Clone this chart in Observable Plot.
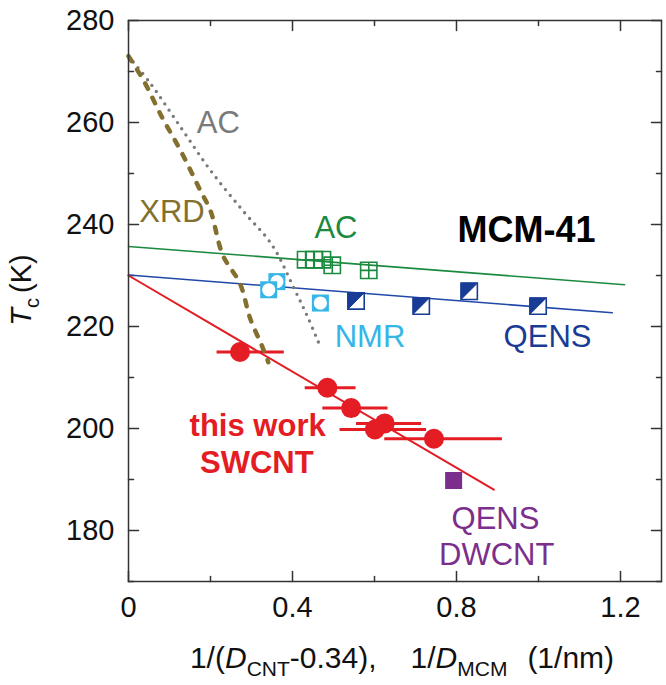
<!DOCTYPE html>
<html><head><meta charset="utf-8">
<script src="https://cdn.jsdelivr.net/npm/d3@7"></script>
<script src="https://cdn.jsdelivr.net/npm/@observablehq/plot@0.6"></script>
<style>body{margin:0;background:#fff}</style>
</head><body><div id="chart"></div>
<script>
// ---- axes ----
const xDomain = [0, 1.3];
const yDomain = [170, 280];
const xMajorTicks = [0, 0.4, 0.8, 1.2];
const xMinorTicks = [0.2, 0.6, 1.0];
const yMajorTicks = [180, 200, 220, 240, 260, 280];
const yMinorTicks = [170, 190, 210, 230, 250, 270];

// ---- this work: SWCNT ----
const swX   = [0.272, 0.485, 0.543, 0.625, 0.601, 0.745];
const swT   = [215.0, 208.0, 204.0, 201.0, 199.8, 198.0];
const swXlo = [0.216, 0.431, 0.474, 0.556, 0.516, 0.625];
const swXhi = [0.380, 0.555, 0.633, 0.715, 0.727, 0.912];
const swFitX = [0, 0.891];
const swFitT = [230.0, 188.0];

// ---- MCM-41 QENS ----
const qensX = [0.555, 0.714, 0.831, 0.999];
const qensT = [225.0, 224.0, 226.9, 224.0];
const qensFitX = [0, 1.18];
const qensFitT = [230.1, 222.7];

// ---- MCM-41 AC ----
const acX = [0.432, 0.453, 0.473, 0.497, 0.586];
const acT = [233.1, 233.1, 233.1, 232.0, 231.0];
const acFitX = [0, 1.21];
const acFitT = [235.7, 228.2];

// ---- MCM-41 NMR (drawn back to front) ----
const nmrX = [0.362, 0.342, 0.468];
const nmrT = [228.8, 227.2, 224.6];

// ---- QENS DWCNT ----
const dwX = [0.793];
const dwT = [189.8];

// ---- curves ----
const acCurveX = [0, 0.054, 0.127, 0.200, 0.280, 0.350, 0.406, 0.439, 0.470];
const acCurveT = [273.0, 267.6, 259.1, 250.6, 242.6, 236.0, 227.1, 221.5, 215.6];
const xrdCurveX = [0, 0.037, 0.082, 0.127, 0.175, 0.200, 0.230, 0.272, 0.297, 0.325, 0.341];
const xrdCurveT = [273.0, 268.2, 261.0, 254.5, 246.7, 242.7, 234.0, 228.4, 221.5, 216.3, 213.0];

// ---- annotations ----
const RED = "#e41c23", BLUE = "#183c96", BLUE_LINE = "#2148a8", GREEN = "#1b8a3f",
      CYAN = "#35b6e6", GRAY = "#7a7a7a", OLIVE = "#83702e", PURPLE = "#7b2e8c", AXIS = "#333";
const annText  = ["AC", "XRD", "AC", "NMR", "QENS", "QENS", "DWCNT"];
const annX     = [0.219, 0.106, 0.506, 0.589, 1.022, 0.895, 0.898];
const annT     = [259.8, 242.5, 239.3, 217.9, 217.9, 182.2, 175.1];
const annColor = [GRAY, OLIVE, GREEN, CYAN, BLUE, PURPLE, PURPLE];
const boldText  = ["MCM-41", "this work", "SWCNT"];
const boldX     = [0.971, 0.315, 0.313];
const boldT     = [238.8, 200.4, 193.2];
const boldColor = ["#000", RED, RED];
const boldSize  = [36, 31, 31];

const FONT = "'Liberation Sans', Arial, Helvetica, sans-serif";

const pts = (xs, ys) => xs.map((x, i) => ({x, y: ys[i]}));
const sw = swX.map((x, i) => ({x, y: swT[i], lo: swXlo[i], hi: swXhi[i]}));
const ann = annText.map((t, i) => ({t, x: annX[i], y: annT[i], c: annColor[i]}));
const annB = boldText.map((t, i) => ({t, x: boldX[i], y: boldT[i], c: boldColor[i], s: boldSize[i]}));

const tickShape = {draw(ctx, l) { ctx.moveTo(0, 0); ctx.lineTo(0, -l); }};
const triUL = {draw(ctx, size) { const w = Math.sqrt(size) / 2; ctx.moveTo(-w, -w); ctx.lineTo(w, -w); ctx.lineTo(-w, w); ctx.closePath(); }};
const gridSq = {draw(ctx, size) { const w = Math.sqrt(size) / 2;
  ctx.moveTo(-w, -w); ctx.lineTo(w, -w); ctx.lineTo(w, w); ctx.lineTo(-w, w); ctx.closePath();
  ctx.moveTo(0, -w); ctx.lineTo(0, w); ctx.moveTo(-w, 0); ctx.lineTo(w, 0); }};

function ticks(vals, axis, len) {
  const o = {length: len, anchor: "start", shape: tickShape, stroke: AXIS, strokeWidth: 1.5};
  if (axis === "x") return [
    Plot.vector(vals, {...o, x: d => d, y: () => yDomain[0], rotate: 0}),
    Plot.vector(vals, {...o, x: d => d, y: () => yDomain[1], rotate: 180})];
  return [
    Plot.vector(vals, {...o, y: d => d, x: () => xDomain[0], rotate: 90}),
    Plot.vector(vals, {...o, y: d => d, x: () => xDomain[1], rotate: -90})];
}

const nmrMarks = nmrX.flatMap((x, i) => [
  Plot.dot([{x, y: nmrT[i]}], {x: "x", y: "y", symbol: "square", r: 9.6, fill: CYAN}),
  Plot.dot([{x, y: nmrT[i]}], {x: "x", y: "y", r: 6.6, fill: "white"})
]);

const plot = Plot.plot({
  width: 666, height: 685,
  marginLeft: 128, marginRight: 5, marginTop: 20, marginBottom: 104,
  x: {domain: xDomain},
  y: {domain: yDomain},
  style: {fontFamily: FONT, background: "white", color: "#111"},
  marks: [
    Plot.axisX(xMajorTicks, {tickSize: 0, tickPadding: 15, fontSize: 29, label: null, tickFormat: d => String(d)}),
    Plot.axisY(yMajorTicks, {tickSize: 0, tickPadding: 14, fontSize: 29, label: null, tickFormat: d => String(d)}),
    ...ticks(xMajorTicks, "x", 10), ...ticks(xMinorTicks, "x", 5),
    ...ticks(yMajorTicks, "y", 10), ...ticks(yMinorTicks, "y", 5),
    Plot.line(pts(acFitX, acFitT), {x: "x", y: "y", stroke: GREEN, strokeWidth: 1.6}),
    Plot.line(pts(qensFitX, qensFitT), {x: "x", y: "y", stroke: BLUE_LINE, strokeWidth: 1.6}),
    Plot.line(pts(swFitX, swFitT), {x: "x", y: "y", stroke: RED, strokeWidth: 2}),
    Plot.ruleY(sw, {y: "y", x1: "lo", x2: "hi", stroke: RED, strokeWidth: 3}),
    Plot.line(pts(acCurveX, acCurveT), {x: "x", y: "y", curve: "catmull-rom", stroke: GRAY, strokeWidth: 3.4, strokeDasharray: "0,7.5", strokeLinecap: "round"}),
    Plot.line(pts(xrdCurveX, xrdCurveT), {x: "x", y: "y", curve: "catmull-rom", stroke: OLIVE, strokeWidth: 4.5, strokeDasharray: "6,10", strokeLinecap: "round"}),
    Plot.dot(pts(acX, acT), {x: "x", y: "y", symbol: gridSq, r: 9.2, fill: "none", stroke: GREEN, strokeWidth: 1.6}),
    ...nmrMarks,
    Plot.dot(pts(qensX, qensT), {x: "x", y: "y", symbol: "square", r: 9.2, fill: "white", stroke: BLUE, strokeWidth: 1.6}),
    Plot.dot(pts(qensX, qensT), {x: "x", y: "y", symbol: triUL, r: 9.2, fill: BLUE, stroke: BLUE, strokeWidth: 1}),
    Plot.dot(sw, {x: "x", y: "y", r: 10, fill: RED}),
    Plot.dot(pts(dwX, dwT), {x: "x", y: "y", symbol: "square", r: 9.6, fill: PURPLE}),
    Plot.text(ann, {x: "x", y: "y", text: "t", fill: "c", fontSize: 31}),
    Plot.text(annB, {x: "x", y: "y", text: "t", fill: "c", fontSize: "s", fontWeight: "bold"}),
    Plot.frame({stroke: AXIS, strokeWidth: 1.5})
  ]
});

const svg = d3.select(plot);
const xt = svg.append("text").attr("x", 402).attr("y", 668).attr("text-anchor", "middle")
  .attr("font-size", 30).attr("font-family", FONT).attr("fill", "#111");
xt.append("tspan").text("1/(");
xt.append("tspan").attr("font-style", "italic").text("D");
xt.append("tspan").attr("font-size", 21).attr("dy", 8).text("CNT");
xt.append("tspan").attr("dy", -8).text("-0.34),");
xt.append("tspan").attr("dx", 34).text("1/");
xt.append("tspan").attr("font-style", "italic").text("D");
xt.append("tspan").attr("font-size", 21).attr("dy", 8).text("MCM");
xt.append("tspan").attr("dy", -8).attr("dx", 20).text("(1/nm)");

const yt = svg.append("text").attr("transform", "translate(31,290) rotate(-90)").attr("text-anchor", "middle")
  .attr("font-size", 29).attr("font-family", FONT).attr("fill", "#111");
yt.append("tspan").attr("font-style", "italic").text("T");
yt.append("tspan").attr("font-size", 20).attr("dy", 8).text("c");
yt.append("tspan").attr("dy", -8).attr("dx", 5).text("(K)");

document.getElementById("chart").appendChild(plot);
</script>
</body></html>
